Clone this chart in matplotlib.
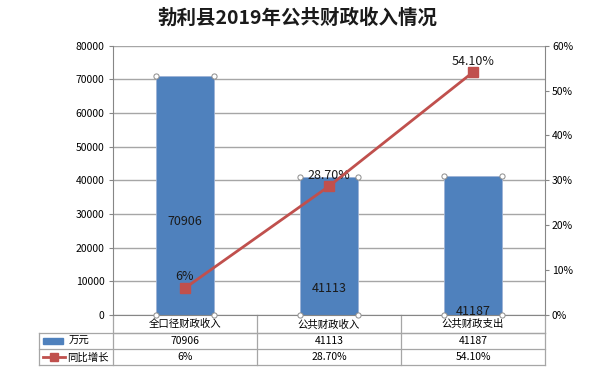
import matplotlib
matplotlib.use('Agg')
import matplotlib.pyplot as plt
import matplotlib.transforms as mtransforms
from matplotlib.lines import Line2D
from matplotlib.patches import Rectangle

plt.rcParams['font.family'] = ['Noto Sans CJK SC', 'DejaVu Sans']

# data
categories = ['全口径财政收入', '公共财政收入', '公共财政支出']
amounts = [70906, 41113, 41187]          # 万元
growth = [0.06, 0.287, 0.541]            # 同比增长
growth_labels = ['6%', '28.70%', '54.10%']
series_names = ['万元', '同比增长']
title = '勃利县2019年公共财政收入情况'

# where Excel put the bar value labels (value units)
bar_label_y = [27700, 8000, 1000]

bar_color = '#4F81BD'
line_color = '#C0504D'
grid_color = '#A6A6A6'
axis_color = '#868686'

W, H = 596, 387
fig = plt.figure(figsize=(W / 100, H / 100), dpi=100)
fig.patch.set_facecolor('white')

left, right, top, bottom = 113, 545, 45.7, 315
ax = fig.add_axes([left / W, 1 - bottom / H, (right - left) / W, (bottom - top) / H])

x = list(range(len(categories)))
bw = 0.4
ax.bar(x, amounts, width=bw, color=bar_color, edgecolor='#9DB3D6', linewidth=0.6, zorder=2)
ax.set_xlim(-0.5, len(categories) - 0.5)
ax.set_ylim(0, 80000)
ax.set_yticks(range(0, 80001, 10000))
ax.set_xticks([])
ax.yaxis.grid(True, color=grid_color, linewidth=1)
ax.set_axisbelow(True)
for s in ['top', 'right']:
    ax.spines[s].set_visible(False)
ax.spines['left'].set_color(axis_color)
ax.spines['bottom'].set_color(axis_color)
ax.tick_params(axis='y', labelsize=7.5, length=3, color=axis_color, pad=3)

# selection handles at bar corners
hx, hy = [], []
for i, v in zip(x, amounts):
    for dx in (-bw / 2, bw / 2):
        hx += [i + dx, i + dx]
        hy += [0, v]
ax.scatter(hx, hy, s=14, facecolor='white', edgecolor='#8C8C8C', linewidth=0.7, zorder=6, clip_on=False)

for i, v, ly in zip(x, amounts, bar_label_y):
    ax.text(i, ly, str(v), ha='center', va='center', fontsize=9, color='#1A1A1A', zorder=7)

ax2 = ax.twinx()
ax2.set_ylim(0, 0.6)
ax2.set_yticks([i / 10 for i in range(7)])
ax2.set_yticklabels(['%d%%' % (i * 10) for i in range(7)])
for s in ['top', 'left', 'bottom']:
    ax2.spines[s].set_visible(False)
ax2.spines['right'].set_color(axis_color)
ax2.tick_params(axis='y', labelsize=7.5, length=3, color=axis_color, pad=2)
ax2.plot(x, growth, color=line_color, linewidth=2, marker='s', markersize=6.5, zorder=5)
for i, g, lab in zip(x, growth, growth_labels):
    ax2.annotate(lab, (i, g), xytext=(0, 8), textcoords='offset points', ha='center', va='center',
                 fontsize=9, color='#1A1A1A')

# data table under the plot
trans = mtransforms.blended_transform_factory(ax.transData, ax.transAxes)
ph = bottom - top
rows = [0, -(333.3 - bottom) / ph, -(349.3 - bottom) / ph, -(365.3 - bottom) / ph]
x0 = (39.3 - left) / (right - left)
tcol = dict(color=grid_color, linewidth=0.9, clip_on=False)
# horizontal lines
ax.add_line(Line2D([-0.5, 2.5], [rows[1]] * 2, transform=trans, **tcol))
ax.add_line(Line2D([x0, 1], [rows[1]] * 2, transform=ax.transAxes, **tcol))
ax.add_line(Line2D([x0, 1], [rows[2]] * 2, transform=ax.transAxes, **tcol))
ax.add_line(Line2D([x0, 1], [rows[3]] * 2, transform=ax.transAxes, **tcol))
# vertical lines
for xv in [-0.5, 0.5, 1.5, 2.5]:
    ax.add_line(Line2D([xv, xv], [0, rows[3]], transform=trans, **tcol))
ax.add_line(Line2D([x0, x0], [rows[1], rows[3]], transform=ax.transAxes, **tcol))

for i, c in enumerate(categories):
    ax.text(i, (rows[0] + rows[1]) / 2, c, transform=trans, ha='center', va='center', fontsize=7.5)
    ax.text(i, (rows[1] + rows[2]) / 2, str(amounts[i]), transform=trans, ha='center', va='center', fontsize=7.5)
    ax.text(i, (rows[2] + rows[3]) / 2, growth_labels[i], transform=trans, ha='center', va='center', fontsize=7.5)

# legend keys in the table header column
fig.patches.append(Rectangle((42.7 / W, 1 - 343.7 / H), 20 / W, 5.4 / H, transform=fig.transFigure,
                             color=bar_color))
fig.text(69 / W, 1 - 341 / H, series_names[0], ha='left', va='center', fontsize=7.5)
fig.add_artist(Line2D([42.5 / W, 65 / W], [1 - 357.3 / H] * 2, transform=fig.transFigure,
                      color=line_color, linewidth=2))
fig.add_artist(Line2D([53.7 / W], [1 - 357.3 / H], transform=fig.transFigure,
                      color=line_color, marker='s', markersize=5.5, linestyle='none'))
fig.text(67.5 / W, 1 - 357.3 / H, series_names[1], ha='left', va='center', fontsize=7.5)

fig.text(297 / W, 1 - 18 / H, title, ha='center', va='center', fontsize=14, fontweight='bold',
         color='#1A1A1A')

fig.savefig('out.png', dpi=100)
